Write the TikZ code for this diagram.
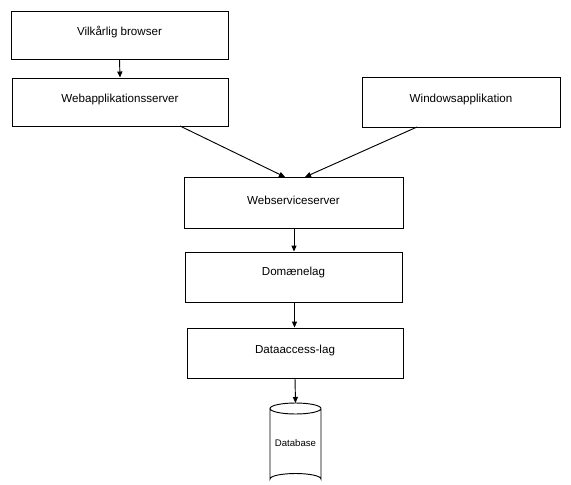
\documentclass[tikz,border=0pt]{standalone}
\usepackage{fontspec}
\setmainfont{Liberation Sans}
\usetikzlibrary{arrows.meta}
\begin{document}
\begin{tikzpicture}[x=0.75pt,y=-0.75pt,
  every node/.style={font=\fontsize{8.7pt}{10pt}\selectfont},
  layer/.style={draw, line width=0.7pt, inner sep=0pt},
  arr/.style={draw, line width=0.7pt, -{Triangle[length=4.5pt,width=3.8pt]}},
  txt/.style={inner sep=0pt}]
\useasboundingbox (0,0) rectangle (571,485);

% boxes
\node[layer, minimum width=217*0.75pt, minimum height=48*0.75pt] (browser) at (119.5,35) {};
\node[txt] (browsertxt) at (119.5,32) {Vilkårlig browser};

\node[layer, minimum width=216*0.75pt, minimum height=48*0.75pt] (webapp) at (120,102) {};
\node[txt] (webapptxt) at (120,99.5) {Webapplikationsserver};

\node[layer, minimum width=198*0.75pt, minimum height=50*0.75pt] (winapp) at (461,102) {};
\node[txt] (winapptxt) at (461,99.5) {Windowsapplikation};

\node[layer, minimum width=219*0.75pt, minimum height=51*0.75pt] (wss) at (293.5,202.5) {};
\node[txt] (wsstxt) at (293.5,200.5) {Webserviceserver};

\node[layer, minimum width=217*0.75pt, minimum height=50*0.75pt] (domain) at (293.5,277) {};
\node[txt] (domaintxt) at (293.5,272.5) {Domænelag};

\node[layer, minimum width=216*0.75pt, minimum height=50*0.75pt] (dal) at (295,353) {};
\node[txt] (daltxt) at (295,350) {Dataaccess-lag};

% database cylinder
\node[inner sep=0pt, minimum width=51*0.75pt, minimum height=81.5*0.75pt] (db) at (295.5,444) {};
\draw[line width=0.7pt, fill=white]
  (270,408.5) -- (270,479) arc[start angle=180, end angle=360, x radius=25.5, y radius=5.5]
  -- (321,408.5) arc[start angle=0, end angle=-180, x radius=25.5, y radius=5.5]
  arc[start angle=180, end angle=0, x radius=25.5, y radius=5.5];
\node[txt, font=\fontsize{7.2pt}{9pt}\selectfont] (dbtxt) at (295.5,443) {Database};

% connectors
\draw[arr] (browser.south) -- (webapp.north);
\coordinate (wa) at (180,126);
\coordinate (wi) at (417,127);
\coordinate (wl) at (285,177);
\coordinate (wr) at (305,177);
\draw[arr] (wa) -- (wl);
\draw[arr] (wi) -- (wr);
\draw[arr] (wss.south -| 294,0) -- (domain.north -| 294,0);
\draw[arr] (domain.south -| 294.5,0) -- (dal.north -| 294.5,0);
\draw[arr] (dal.south) -- (db.north);
\end{tikzpicture}
\end{document}
